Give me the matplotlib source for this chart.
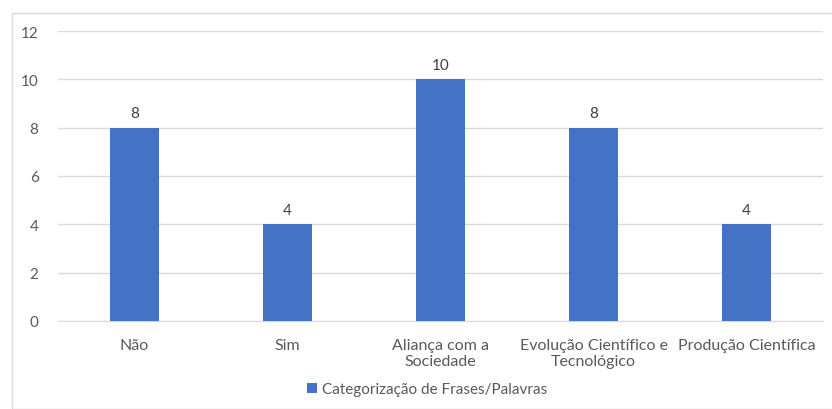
import matplotlib.pyplot as plt
from matplotlib.patches import Rectangle

categorias = ["Não", "Sim", "Aliança com a\nSociedade",
              "Evolução Científico e\nTecnológico", "Produção Científica"]
valores = [8, 4, 10, 8, 4]
serie = "Categorização de Frases/Palavras"
yticks = [0, 2, 4, 6, 8, 10, 12]

plt.rcParams['font.family'] = ['Lato', 'DejaVu Sans']
cinza = '#595959'

fig = plt.figure(figsize=(8.32, 4.10), dpi=100)
# moldura do gráfico
fig.patches.append(Rectangle((12 / 832, 0), 1, 396 / 410, transform=fig.transFigure,
                             fill=False, edgecolor='#d9d9d9', linewidth=1))

ax = fig.add_axes([58 / 832, 88 / 410, 765 / 832, 290 / 410])
x = range(len(categorias))
barras = ax.bar(x, valores, width=0.32, color='#4472C4', label=serie, zorder=3)

for xi, v in zip(x, valores):
    ax.text(xi, v + 0.3, str(v), ha='center', va='bottom', fontsize=11, color='#404040')

ax.set_xlim(-0.5, len(categorias) - 0.5)
ax.set_ylim(0, 12)
ax.set_yticks(yticks)
ax.set_xticks(list(x))
ax.set_xticklabels(categorias, fontsize=11.5, color=cinza, linespacing=1.2)
ax.tick_params(axis='y', labelsize=11, labelcolor=cinza, length=0, pad=14)
ax.tick_params(axis='x', length=0, pad=12)
ax.grid(axis='y', color='#d9d9d9', linewidth=1, zorder=0)
for s in ['top', 'right', 'left']:
    ax.spines[s].set_visible(False)
ax.spines['bottom'].set_color('#d9d9d9')

fig.legend(handles=[barras], labels=[serie], loc='center', bbox_to_anchor=(427 / 832, 1 - 390 / 410),
           frameon=False, fontsize=11, labelcolor=cinza, handlelength=0.65, handleheight=0.65,
           handletextpad=0.3)

fig.savefig('out.png', dpi=100)
